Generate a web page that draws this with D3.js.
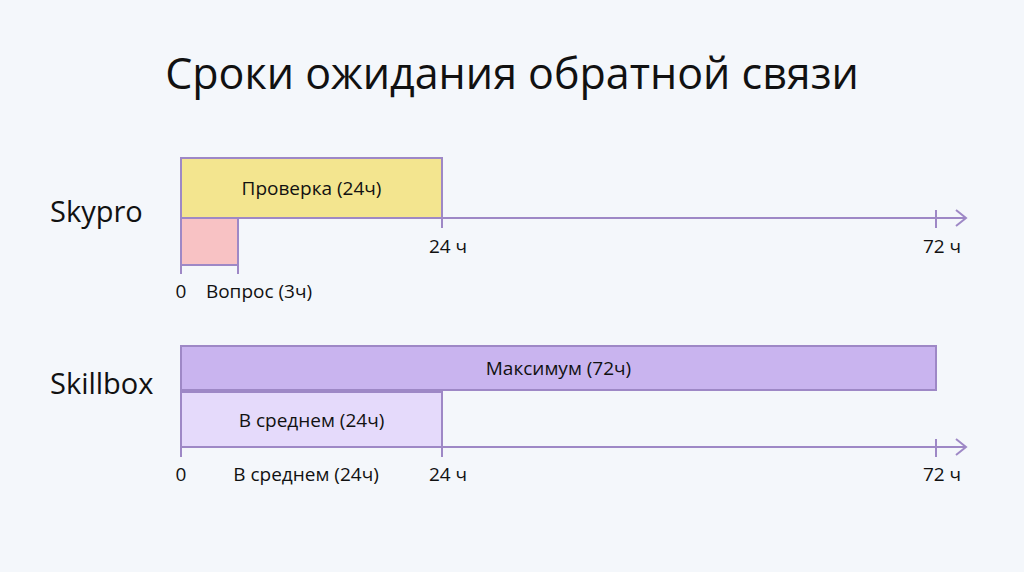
<!DOCTYPE html>
<html><head><meta charset="utf-8">
<script src="https://cdnjs.cloudflare.com/ajax/libs/d3/7.8.5/d3.min.js"></script>
<style>
body{margin:0;background:#f4f7fb;}
text{font-family:"Open Sans",Lato,sans-serif;fill:#111;}
</style></head><body>
<svg id="chart" width="1024" height="572"></svg>
<script>
// hours on the shared time axis
var ticks = [0, 24, 72];
var groups = ["Skypro", "Skillbox"];
var skyproBars = [
  {label: "Проверка (24ч)", start: 0, end: 24, fill: "#f3e58f"},
  {label: "", start: 0, end: 3, fill: "#f8c2c4"}
];
var skillboxBars = [
  {label: "Максимум (72ч)", start: 0, end: 72, fill: "#c9b4ef"},
  {label: "В среднем (24ч)", start: 0, end: 24, fill: "#e5dafb"}
];

var svg = d3.select("#chart");
var stroke = "#9e88c6";
// the picture's axis is not to scale, so use a piecewise scale
var x = d3.scaleLinear().domain([0, 3, 24, 72]).range([181, 238, 442, 936]);

svg.append("text").attr("x", 512).attr("y", 89).attr("text-anchor", "middle")
  .style("font-size", "43px").style("font-weight", 500).text("Сроки ожидания обратной связи");

function drawGroup(name, bars, rows, axisY, labelY, bottomLabels) {
  svg.append("text").attr("x", 50).attr("y", rows[0][1] + 4).style("font-size", "29px")
    .style("font-weight", 500).text(name);
  var g = svg.append("g");
  g.selectAll("rect").data(bars).join("rect")
    .attr("x", d => x(d.start)).attr("width", d => x(d.end) - x(d.start))
    .attr("y", (d, i) => rows[i][0]).attr("height", (d, i) => rows[i][1] - rows[i][0])
    .attr("fill", d => d.fill).attr("stroke", stroke).attr("stroke-width", 2);
  g.selectAll("text").data(bars).join("text")
    .attr("x", d => (x(d.start) + x(d.end)) / 2)
    .attr("y", (d, i) => (rows[i][0] + rows[i][1]) / 2 + 7)
    .attr("text-anchor", "middle").style("font-size", "19px").text(d => d.label);
  svg.append("line").attr("x1", x(0)).attr("x2", 966).attr("y1", axisY).attr("y2", axisY)
    .attr("stroke", stroke).attr("stroke-width", 2);
  svg.append("path").attr("d", "M956," + (axisY - 8) + "L966," + axisY + "L956," + (axisY + 8))
    .attr("fill", "none").attr("stroke", stroke).attr("stroke-width", 2);
  ticks.forEach(function (t) {
    svg.append("line").attr("x1", x(t)).attr("x2", x(t)).attr("y1", t === 72 ? axisY - 8 : axisY - 2)
      .attr("y2", axisY + 10).attr("stroke", stroke).attr("stroke-width", 2);
    if (t > 0) svg.append("text").attr("x", x(t) + 6).attr("y", labelY).attr("text-anchor", "middle")
      .style("font-size", "19px").text(t + " ч");
  });
  bottomLabels.forEach(function (b) {
    svg.append("text").attr("x", b[0]).attr("y", b[1]).attr("text-anchor", "middle")
      .style("font-size", "19px").text(b[2]);
  });
}

drawGroup(groups[0], skyproBars, [[158, 218], [218, 265]], 218, 253,
  [[x(0), 298, "0"], [259, 298, "Вопрос (3ч)"]]);
// tick marks under the pink block
svg.append("line").attr("x1", x(3)).attr("x2", x(3)).attr("y1", 265).attr("y2", 274).attr("stroke", stroke).attr("stroke-width", 2);
svg.append("line").attr("x1", x(0)).attr("x2", x(0)).attr("y1", 265).attr("y2", 274).attr("stroke", stroke).attr("stroke-width", 2);
drawGroup(groups[1], skillboxBars, [[346, 390], [392, 447]], 447, 481,
  [[x(0), 481, "0"], [306, 481, "В среднем (24ч)"]]);
</script>
</body></html>
